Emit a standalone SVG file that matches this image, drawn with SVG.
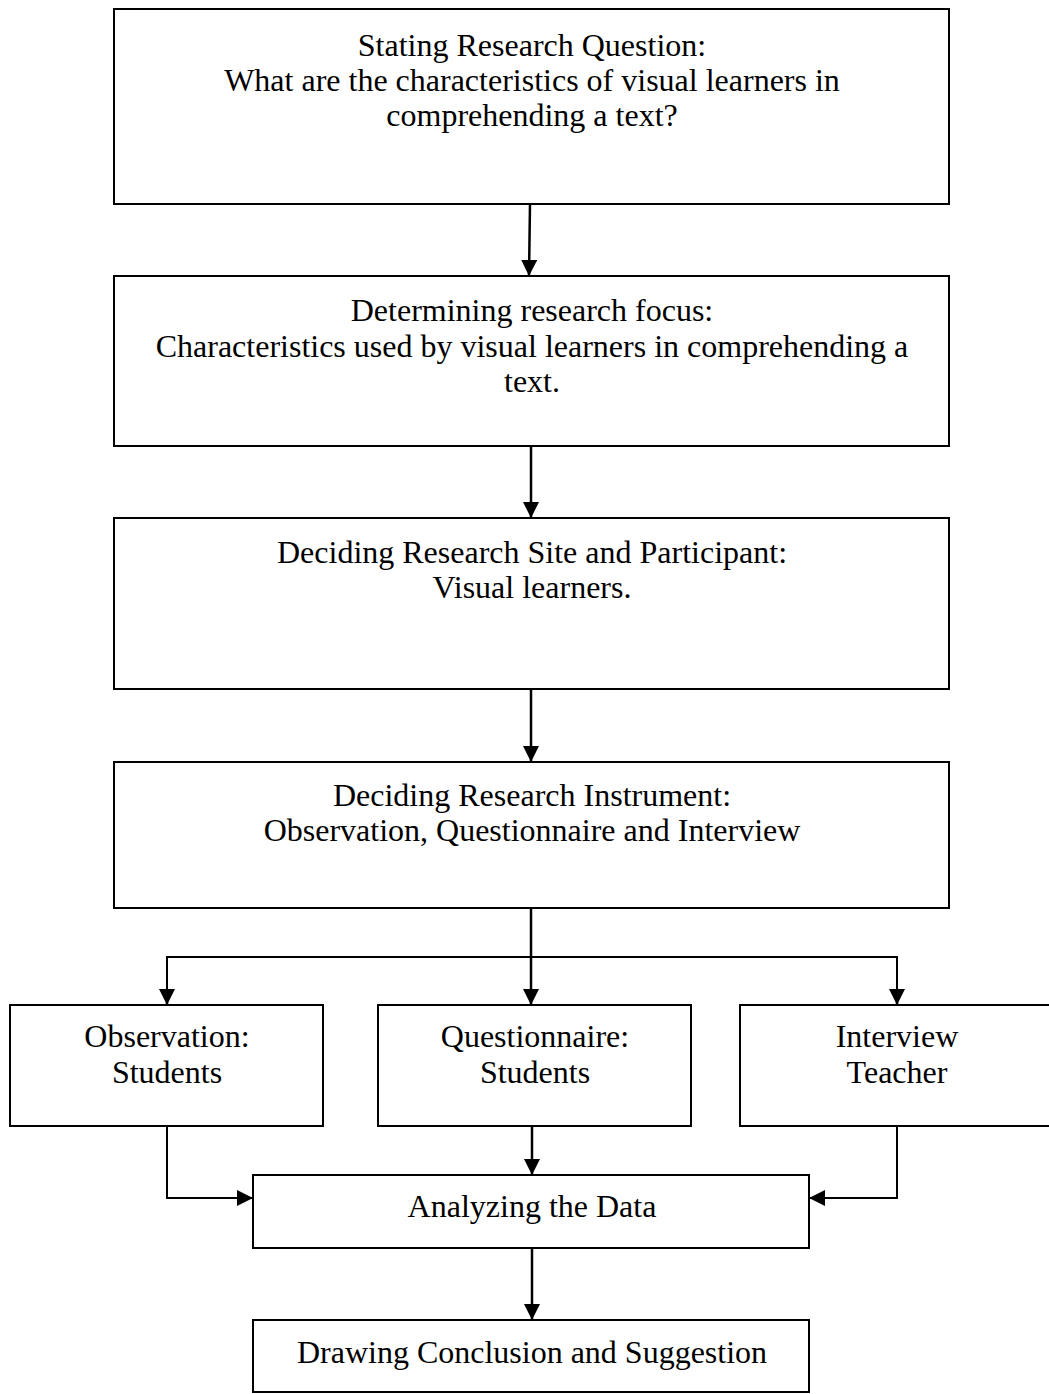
<svg xmlns="http://www.w3.org/2000/svg" width="1049" height="1394" viewBox="0 0 1049 1394">
<defs>
<style>
rect{fill:#fff;stroke:#000;stroke-width:2}
text{font-family:"Liberation Serif","Times New Roman",serif;font-size:32px;fill:#000;text-anchor:middle}
.c{fill:none;stroke:#000;stroke-width:2.5}
</style>
<marker id="ah" viewBox="0 0 16 16" refX="16" refY="8" markerWidth="16" markerHeight="16" markerUnits="userSpaceOnUse" orient="auto"><path d="M0,0 L16,8 L0,16 Z" fill="#000"/></marker>
</defs>
<rect x="0" y="0" width="1049" height="1394" style="fill:#fff;stroke:none"/>
<g id="n1"><rect x="114" y="9" width="835" height="195"/>
<text x="532" y="56">Stating Research Question:</text>
<text x="532" y="91">What are the characteristics of visual learners in</text>
<text x="532" y="126">comprehending a text?</text></g>
<g id="n2"><rect x="114" y="276" width="835" height="170"/>
<text x="532" y="321">Determining research focus:</text>
<text x="532" y="357">Characteristics used by visual learners in comprehending a</text>
<text x="532" y="392">text.</text></g>
<g id="n3"><rect x="114" y="518" width="835" height="171"/>
<text x="532" y="563">Deciding Research Site and Participant:</text>
<text x="532" y="598">Visual learners.</text></g>
<g id="n4"><rect x="114" y="762" width="835" height="146"/>
<text x="532" y="806">Deciding Research Instrument:</text>
<text x="532" y="841">Observation, Questionnaire and Interview</text></g>
<g id="n5"><rect x="10" y="1005" width="313" height="121"/>
<text x="167" y="1047">Observation:</text>
<text x="167" y="1083">Students</text></g>
<g id="n6"><rect x="378" y="1005" width="313" height="121"/>
<text x="535" y="1047">Questionnaire:</text>
<text x="535" y="1083">Students</text></g>
<g id="n7"><rect x="740" y="1005" width="320" height="121"/>
<text x="897" y="1047">Interview</text>
<text x="897" y="1083">Teacher</text></g>
<g id="n8"><rect x="253" y="1175" width="556" height="73"/>
<text x="532" y="1217">Analyzing the Data</text></g>
<g id="n9"><rect x="253" y="1320" width="556" height="72"/>
<text x="532" y="1363">Drawing Conclusion and Suggestion</text></g>
<g id="connectors">
<path class="c" d="M530,204 L529,276" marker-end="url(#ah)"/>
<path class="c" d="M531,446 L531,518" marker-end="url(#ah)"/>
<path class="c" d="M531,689 L531,762" marker-end="url(#ah)"/>
<path class="c" d="M531,908 L531,1005" marker-end="url(#ah)"/>
<path class="c" d="M167,1005 L167,957 L897,957 L897,1005" style="stroke-width:2"/>
<path class="c" d="M167,990 L167,1005" marker-end="url(#ah)"/>
<path class="c" d="M897,990 L897,1005" marker-end="url(#ah)"/>
<path class="c" d="M167,1126 L167,1198 L253,1198" style="stroke-width:2" marker-end="url(#ah)"/>
<path class="c" d="M532,1126 L532,1175" marker-end="url(#ah)"/>
<path class="c" d="M897,1126 L897,1198 L809,1198" style="stroke-width:2" marker-end="url(#ah)"/>
<path class="c" d="M532,1248 L532,1320" marker-end="url(#ah)"/>
</g>
</svg>
